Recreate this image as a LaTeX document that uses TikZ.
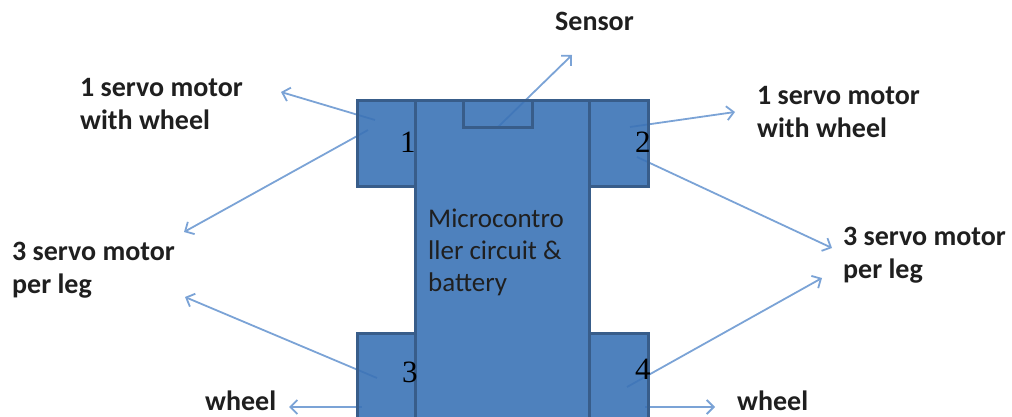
\documentclass[tikz,border=0pt]{standalone}
\usepackage{fontspec}
\setmainfont{Carlito}
\newfontfamily\numfont{Liberation Serif}
\usetikzlibrary{arrows.meta}
\definecolor{bodyfill}{HTML}{3B73B6}
\definecolor{bodyline}{HTML}{385D8A}
\definecolor{arrowc}{HTML}{7BA3D6}
\definecolor{txt}{HTML}{1F1F1F}
\tikzset{
  part/.style={draw=bodyline, fill=bodyfill, line width=3pt, fill opacity=0.9},
  notch/.style={draw=bodyline, line width=3pt},
  conn/.style={draw=arrowc, line width=1.8pt, -{Straight Barb[length=7pt,width=14pt]}},
  lbl/.style={font=\fontsize{28}{33}\selectfont\bfseries, text=txt, align=left, inner sep=0pt, anchor=base west},
  body/.style={font=\fontsize{27}{32}\selectfont, text=txt, align=left, inner sep=0pt, anchor=base west},
  num/.style={font=\numfont\fontsize{31}{31}\selectfont, text=black, inner sep=0pt, anchor=base west},
}
\begin{document}
\begin{tikzpicture}[x=1pt,y=-1pt]
\useasboundingbox (0,0) rectangle (1012,417);
\clip (0,0) rectangle (1012,417);
% connector end points
\coordinate (sS) at (498,127); \coordinate (sE) at (572,55);
\coordinate (l1S) at (375,120); \coordinate (l1E) at (281,92);
\coordinate (l2S) at (368,130); \coordinate (l2E) at (184,232);
\coordinate (l3S) at (377,378); \coordinate (l3E) at (185,297);
\coordinate (lwS) at (362,407); \coordinate (lwE) at (289,407);
\coordinate (r1S) at (630,127); \coordinate (r1E) at (735,112);
\coordinate (r2S) at (637,157); \coordinate (r2E) at (832,248);
\coordinate (r3S) at (627,387); \coordinate (r3E) at (822,278);
\coordinate (rwS) at (645,407); \coordinate (rwE) at (715,407);
% connectors
\draw[conn] (sS) -- (sE);
\draw[conn] (l1S) -- (l1E);
\draw[conn] (l2S) -- (l2E);
\draw[conn] (l3S) -- (l3E);
\draw[conn] (lwS) -- (lwE);
\draw[conn] (r1S) -- (r1E);
\draw[conn] (r2S) -- (r2E);
\draw[conn] (r3S) -- (r3E);
\draw[conn] (rwS) -- (rwE);
% body
\draw[part] (357,101) rectangle (415,186);
\draw[part] (589,101) rectangle (648,186);
\draw[part] (357,333) rectangle (415,430);
\draw[part] (589,333) rectangle (648,430);
\draw[part] (415,101) rectangle (589,430);
\draw[notch] (463,101) rectangle (532,128);
% numbers
\node[num] (n1) at (400,153) {1};
\node[num] (n2) at (635,153) {2};
\node[num] (n3) at (402,382) {3};
\node[num] (n4) at (635,379) {4};
% texts
\node[body] (mc) at (428,291) {Microcontro\\ller circuit \&\\battery};
\node[lbl] (sensor) at (555,31) {Sensor};
\node[lbl] (tl) at (80,130) {1 servo motor\\with wheel};
\node[lbl] (ml) at (12,293) {3 servo motor\\per leg};
\node[lbl] (tr) at (757,138) {1 servo motor\\with wheel};
\node[lbl] (mr) at (843,278) {3 servo motor\\per leg};
\node[lbl] (wl) at (205,410) {wheel};
\node[lbl] (wr) at (737,410) {wheel};
\end{tikzpicture}
\end{document}
